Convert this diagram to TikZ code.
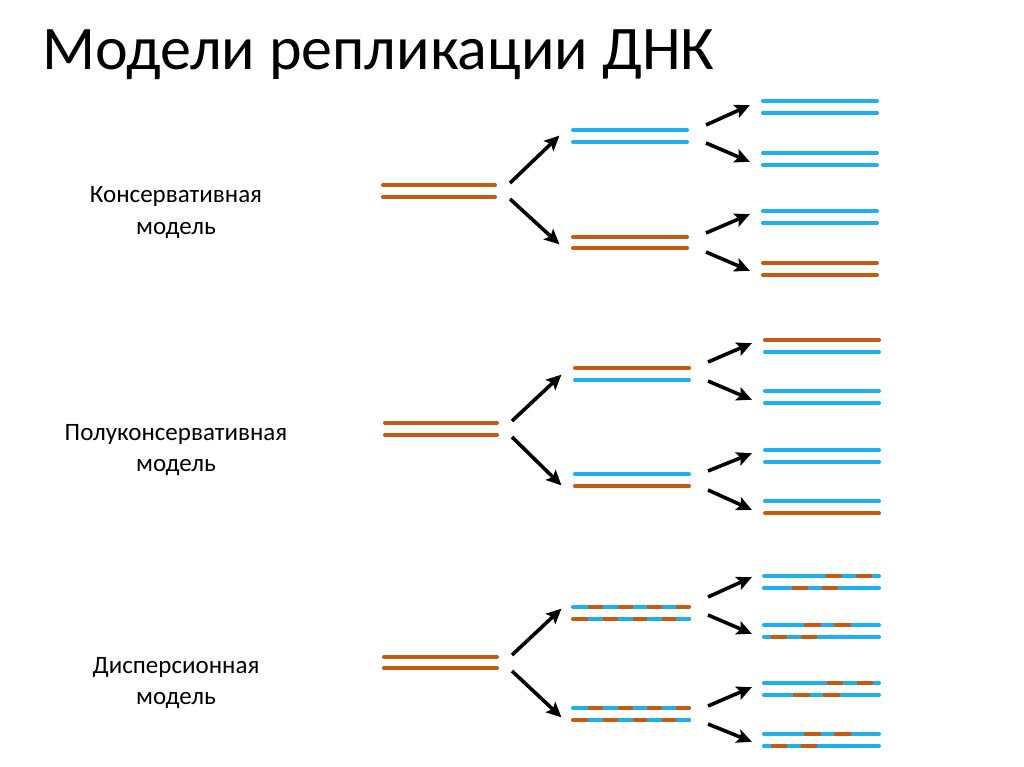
\documentclass[tikz,border=0pt]{standalone}
\usepackage{fontspec}
\setmainfont{Carlito}
\usetikzlibrary{arrows.meta}
\definecolor{dnaor}{HTML}{C55A11}
\definecolor{dnabl}{HTML}{1DB0EA}
\tikzset{
  strand/.style={line width=4pt, line cap=round},
  seg/.style={line width=4pt, line cap=butt},
  arr/.style={line width=3.6pt, -{Stealth[length=15pt,width=14pt,inset=3pt]}, shorten >=-2pt},
  lbl/.style={anchor=base, inner sep=0pt, font=\fontsize{25}{30}\selectfont},
}
% plain strand: x1 x2 y colour
\newcommand{\dnastrand}[4]{\draw[strand,#4] (#1,#3) -- (#2,#3);}
% mixed strand: x1 x2 y base colour, overlay colour, list of a/b segments
\newcommand{\dnamix}[6]{%
  \draw[strand,#4] (#1,#3) -- (#2,#3);
  \foreach \sa/\sb in {#6} {\draw[seg,#5] (\sa,#3) -- (\sb,#3);}
}
\begin{document}
\begin{tikzpicture}[x=1pt,y=-1pt]
\useasboundingbox (0,0) rectangle (1024,767);
\fill[white] (0,0) rectangle (1024,767);

% title
\node[anchor=base west, inner sep=0pt, font=\fontsize{62}{70}\selectfont] (title) at (42,70) {Модели репликации ДНК};

% labels
\node[lbl] (l1a) at (176,203) {Консервативная};
\node[lbl] (l1b) at (176,234) {модель};
\node[lbl] (l2a) at (176,440) {Полуконсервативная};
\node[lbl] (l2b) at (176,471) {модель};
\node[lbl] (l3a) at (176,673) {Дисперсионная};
\node[lbl] (l3b) at (176,704) {модель};

%% ---------------- Conservative ----------------
\dnastrand{383}{495}{185}{dnaor}
\dnastrand{383}{495}{197}{dnaor}
\dnastrand{573}{687}{130}{dnabl}
\dnastrand{573}{687}{142}{dnabl}
\dnastrand{573}{687}{237}{dnaor}
\dnastrand{573}{687}{248}{dnaor}
\dnastrand{763}{877}{101}{dnabl}
\dnastrand{763}{877}{113}{dnabl}
\dnastrand{763}{877}{153}{dnabl}
\dnastrand{763}{877}{165}{dnabl}
\dnastrand{763}{877}{211}{dnabl}
\dnastrand{763}{877}{223}{dnabl}
\dnastrand{763}{877}{263}{dnaor}
\dnastrand{763}{877}{275}{dnaor}

\coordinate (c0s1) at (510,183); \coordinate (c0e1) at (558,137);
\coordinate (c0s2) at (510,199); \coordinate (c0e2) at (558,243);
\coordinate (c1s1) at (706,125); \coordinate (c1e1) at (748,106);
\coordinate (c1s2) at (706,143); \coordinate (c1e2) at (748,161);
\coordinate (c1s3) at (706,233); \coordinate (c1e3) at (748,215);
\coordinate (c1s4) at (706,252); \coordinate (c1e4) at (748,270);
\foreach \i in {1,2} {\draw[arr] (c0s\i) -- (c0e\i);}
\foreach \i in {1,...,4} {\draw[arr] (c1s\i) -- (c1e\i);}

%% ---------------- Semi-conservative ----------------
\dnastrand{385}{497}{423}{dnaor}
\dnastrand{385}{497}{435}{dnaor}
\dnastrand{575}{689}{368}{dnaor}
\dnastrand{575}{689}{380}{dnabl}
\dnastrand{575}{689}{474}{dnabl}
\dnastrand{575}{689}{486}{dnaor}
\dnastrand{765}{879}{340}{dnaor}
\dnastrand{765}{879}{352}{dnabl}
\dnastrand{765}{879}{391}{dnabl}
\dnastrand{765}{879}{403}{dnabl}
\dnastrand{765}{879}{450}{dnabl}
\dnastrand{765}{879}{462}{dnabl}
\dnastrand{765}{879}{501}{dnabl}
\dnastrand{765}{879}{513}{dnaor}

\coordinate (s0s1) at (512,421); \coordinate (s0e1) at (560,376);
\coordinate (s0s2) at (512,437); \coordinate (s0e2) at (560,484);
\coordinate (s1s1) at (708,362); \coordinate (s1e1) at (750,344);
\coordinate (s1s2) at (708,381); \coordinate (s1e2) at (750,399);
\coordinate (s1s3) at (708,471); \coordinate (s1e3) at (750,454);
\coordinate (s1s4) at (708,490); \coordinate (s1e4) at (750,509);
\foreach \i in {1,2} {\draw[arr] (s0s\i) -- (s0e\i);}
\foreach \i in {1,...,4} {\draw[arr] (s1s\i) -- (s1e\i);}

%% ---------------- Dispersive ----------------
\dnastrand{384}{497}{657}{dnaor}
\dnastrand{384}{497}{668}{dnaor}
% generation 1
\dnamix{573}{689}{607}{dnabl}{dnaor}{588/603,618/633,647/662,676/689}
\fill[dnaor] (689,607) circle (2pt);
\dnamix{573}{689}{619}{dnaor}{dnabl}{588/603,618/633,647/662,676/689}
\fill[dnabl] (689,619) circle (2pt);
\dnamix{573}{689}{708}{dnabl}{dnaor}{588/603,618/633,647/662,676/689}
\fill[dnaor] (689,708) circle (2pt);
\dnamix{573}{689}{720}{dnaor}{dnabl}{588/603,618/633,647/662,676/689}
\fill[dnabl] (689,720) circle (2pt);
% generation 2
\dnamix{764}{879}{576}{dnabl}{dnaor}{826/842,856/872}
\dnamix{764}{879}{588}{dnabl}{dnaor}{792/808,822/838}
\dnamix{764}{879}{625}{dnabl}{dnaor}{804/821,834/851}
\dnamix{764}{879}{637}{dnabl}{dnaor}{771/787,801/817}
\dnamix{764}{879}{683}{dnabl}{dnaor}{827/843,857/873}
\dnamix{764}{879}{695}{dnabl}{dnaor}{793/810,823/840}
\dnamix{764}{879}{734}{dnabl}{dnaor}{804/821,834/851}
\dnamix{764}{879}{746}{dnabl}{dnaor}{771/787,801/817}

\coordinate (d0s1) at (512,655); \coordinate (d0e1) at (560,610);
\coordinate (d0s2) at (512,671); \coordinate (d0e2) at (560,716);
\coordinate (d1s1) at (708,597); \coordinate (d1e1) at (750,578);
\coordinate (d1s2) at (708,615); \coordinate (d1e2) at (750,633);
\coordinate (d1s3) at (708,706); \coordinate (d1e3) at (750,688);
\coordinate (d1s4) at (708,724); \coordinate (d1e4) at (750,741);
\foreach \i in {1,2} {\draw[arr] (d0s\i) -- (d0e\i);}
\foreach \i in {1,...,4} {\draw[arr] (d1s\i) -- (d1e\i);}
\end{tikzpicture}
\end{document}
